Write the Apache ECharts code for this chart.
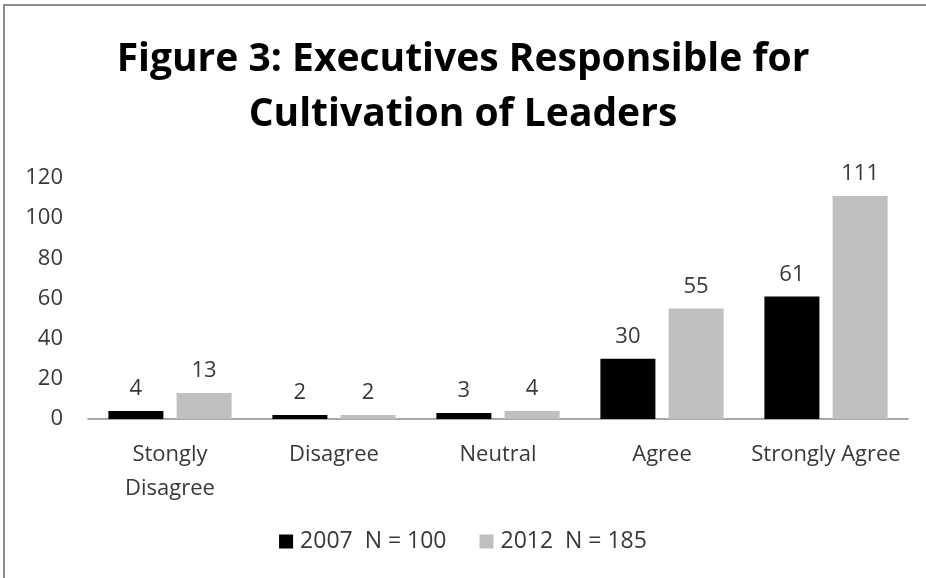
<!DOCTYPE html>
<html>
<head>
<meta charset="utf-8">
<script src="https://cdn.jsdelivr.net/npm/echarts@6/dist/echarts.min.js"></script>
<style>
  html, body { margin: 0; padding: 0; background: #fff; }
  #wrap { position: relative; width: 926px; height: 578px; overflow: hidden; }
  #frame { position: absolute; left: 3px; top: 4px; width: 940px; height: 600px; border: 2px solid #8c8c8c; box-sizing: border-box; }
  #chart { position: absolute; left: 0; top: 0; width: 926px; height: 578px; }
</style>
</head>
<body>
<div id="wrap">
  <div id="frame"></div>
  <div id="chart"></div>
</div>
<script>
// chart data
const categories = ['Stongly\nDisagree', 'Disagree', 'Neutral', 'Agree', 'Strongly Agree'];
const values2007 = [4, 2, 3, 30, 61];
const values2012 = [13, 2, 4, 55, 111];
const seriesNames = ['2007  N = 100', '2012  N = 185'];
const yTicks = [0, 20, 40, 60, 80, 100, 120];

const font = 'Open Sans';
const textColor = '#383838';
const textSize = 22;

const chart = echarts.init(document.getElementById('chart'), null, { renderer: 'canvas' });

const labelStyle = {
  show: true,
  position: 'top',
  distance: 11,
  fontFamily: font,
  fontSize: textSize,
  color: textColor,
};

chart.setOption({
  animation: false,
  backgroundColor: 'transparent',
  title: {
    text: 'Figure 3: Executives Responsible for\nCultivation of Leaders',
    left: 'center',
    top: 27,
    textStyle: {
      fontFamily: font,
      fontWeight: 'bold',
      fontSize: 39,
      lineHeight: 55,
      color: '#000',
    },
  },
  legend: {
    bottom: 20,
    left: 'center',
    itemWidth: 14,
    itemHeight: 14,
    itemGap: 33,
    icon: 'rect',
    textStyle: { fontFamily: font, fontSize: 23, color: textColor, padding: [0, 0, 0, 2] },
    data: seriesNames,
  },
  grid: { left: 88, right: 18, top: 178, bottom: 159, containLabel: false },
  xAxis: {
    type: 'category',
    data: categories,
    axisLine: { lineStyle: { color: '#8c8c8c', width: 1.5 } },
    axisTick: { show: false },
    axisLabel: {
      fontFamily: font,
      fontSize: textSize,
      color: textColor,
      margin: 19,
      lineHeight: 34,
      interval: 0,
    },
  },
  yAxis: {
    type: 'value',
    min: yTicks[0],
    max: yTicks[yTicks.length - 1],
    interval: 20,
    axisLine: { show: false },
    axisTick: { show: false },
    splitLine: { show: false },
    axisLabel: {
      fontFamily: font,
      fontSize: textSize,
      color: textColor,
      margin: 25,
    },
  },
  series: [
    {
      name: seriesNames[0],
      type: 'bar',
      data: values2007,
      barWidth: 55,
      barGap: '24%',
      itemStyle: { color: '#000000' },
      label: labelStyle,
    },
    {
      name: seriesNames[1],
      type: 'bar',
      data: values2012,
      barWidth: 55,
      itemStyle: { color: '#bfbfbf' },
      label: labelStyle,
    },
  ],
});
</script>
</body>
</html>
